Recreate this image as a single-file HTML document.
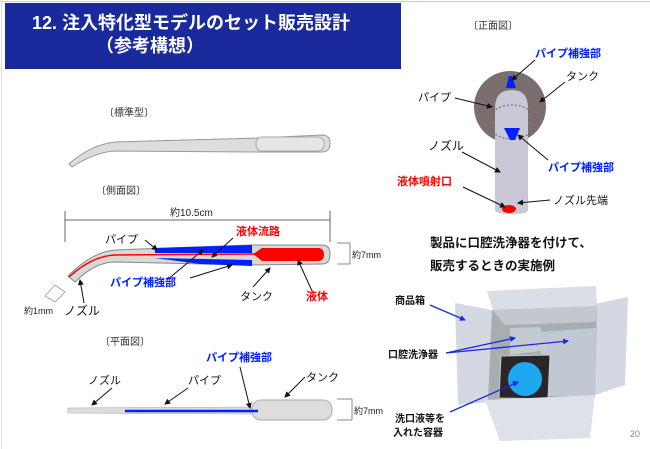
<!DOCTYPE html>
<html><head><meta charset="utf-8"><style>
body{margin:0;background:#fff}
svg{display:block;font-family:"Liberation Sans","Noto Sans CJK JP",sans-serif}
.b{font-weight:bold}
</style></head><body>
<svg width="650" height="449" viewBox="0 0 650 449" xmlns="http://www.w3.org/2000/svg">
<defs>
<marker id="a" markerWidth="6" markerHeight="6" refX="5" refY="3" orient="auto" markerUnits="userSpaceOnUse"><path d="M0,0 L6,3 L0,6 Z" fill="#111"/></marker>
<marker id="ab" markerWidth="6" markerHeight="6" refX="5" refY="3" orient="auto" markerUnits="userSpaceOnUse"><path d="M0,0 L6,3 L0,6 Z" fill="#1a2ae0"/></marker>
</defs>
<rect x="0" y="0" width="650" height="449" fill="#fff"/>
<line x1="0" y1="1.5" x2="650" y2="1.5" stroke="#ccc"/>
<line x1="1.5" y1="0" x2="1.5" y2="449" stroke="#ddd"/>
<rect x="5" y="3" width="396" height="66" fill="#1a2a9c"/>
<text x="32" y="29" font-size="18" fill="#fff" class="b">12.  注入特化型モデルのセット販売設計</text>
<text x="96" y="52" font-size="18" fill="#fff" class="b">（参考構想）</text>

<text x="104" y="116" font-size="10" fill="#333">〔標準型〕</text>
<path d="M69,164 Q90,145 115,142 L258,138 L322,135 Q330,135 330,143 Q330,152 322,152 L258,152 L115,151 Q95,152 72,167 Z" fill="#ddd" stroke="#999" stroke-width="1"/>
<rect x="256" y="137" width="68" height="14" rx="6" fill="#e6e6e6" stroke="#aaa"/>

<text x="96" y="194" font-size="10" fill="#333">〔側面図〕</text>
<text x="170" y="216" font-size="10" fill="#222">約10.5cm</text>
<line x1="65" y1="220" x2="330" y2="220" stroke="#666"/>
<line x1="65" y1="211" x2="65" y2="242" stroke="#666"/>
<line x1="330" y1="211" x2="330" y2="242" stroke="#666"/>
<path d="M68,276 Q92,252 115,250 L250,245 L322,245 Q330,245 330,254 Q330,264 322,264 L250,265 L115,262 Q95,262 75,282 Z" fill="#d8d8d8" stroke="#888"/>
<path d="M155,248 L252,245 L252,253 L155,253 Z M155,258 L252,260 L252,266 L200,264 Z" fill="#0020ff"/>
<path d="M253,254 L262,248 L318,248 Q324,248 324,255 Q324,261 318,261 L262,261 Z" fill="#ff0000"/>
<path d="M69,277 Q92,256 115,255 L255,254" stroke="#ff0000" stroke-width="1.5" fill="none"/>
<path d="M45,296 L55,285 L65,292 L55,302 Z" fill="none" stroke="#999" stroke-width="0.8"/>
<g stroke="#111" stroke-width="1" marker-end="url(#a)">
<line x1="145" y1="240" x2="157" y2="250"/>
<line x1="233" y1="238" x2="212" y2="257"/>
<line x1="167" y1="280" x2="203" y2="250"/>
<line x1="190" y1="278" x2="232" y2="265"/>
<line x1="253" y1="287" x2="270" y2="268"/>
<line x1="312" y1="291" x2="298" y2="260"/>
<line x1="84" y1="303" x2="80" y2="280"/>
</g>
<text x="105" y="243" font-size="11" fill="#111">パイプ</text>
<text x="236" y="235" font-size="11" fill="#ff0000" class="b">液体流路</text>
<text x="110" y="286" font-size="11" fill="#0020ff" class="b">パイプ補強部</text>
<text x="240" y="300" font-size="11" fill="#111">タンク</text>
<text x="306" y="300" font-size="11" fill="#ff0000" class="b">液体</text>
<text x="64" y="315" font-size="12" fill="#111">ノズル</text>
<text x="24" y="314" font-size="9" fill="#222">約1mm</text>
<line x1="337" y1="243" x2="350" y2="243" stroke="#888"/>
<line x1="337" y1="264" x2="350" y2="264" stroke="#888"/>
<line x1="350" y1="243" x2="350" y2="264" stroke="#888"/>
<text x="352" y="258" font-size="9" fill="#222">約7mm</text>

<text x="100" y="345" font-size="10" fill="#333">〔平面図〕</text>
<text x="206" y="361" font-size="11" fill="#0020ff" class="b">パイプ補強部</text>
<text x="88" y="384" font-size="11" fill="#111">ノズル</text>
<text x="188" y="384" font-size="11" fill="#111">パイプ</text>
<text x="306" y="381" font-size="11" fill="#111">タンク</text>
<path d="M68,408 L255,407 L255,414 L68,413 Z" fill="#ddd" stroke="#aaa" stroke-width="0.6"/>
<rect x="252" y="400" width="80" height="20" rx="9" fill="#ddd" stroke="#aaa"/>
<line x1="125" y1="411" x2="258" y2="411" stroke="#0020ff" stroke-width="2.5"/>
<g stroke="#111" stroke-width="1" marker-end="url(#a)">
<line x1="112" y1="388" x2="92" y2="405"/>
<line x1="188" y1="388" x2="165" y2="404"/>
<line x1="240" y1="367" x2="250" y2="408"/>
<line x1="305" y1="377" x2="285" y2="397"/>
</g>
<line x1="337" y1="399" x2="352" y2="399" stroke="#888"/>
<line x1="337" y1="420" x2="352" y2="420" stroke="#888"/>
<line x1="352" y1="399" x2="352" y2="420" stroke="#888"/>
<text x="354" y="414" font-size="9" fill="#222">約7mm</text>

<text x="468" y="29" font-size="10" fill="#333">〔正面図〕</text>
<circle cx="510" cy="107" r="36" fill="#7a6e6e"/>
<path d="M495,108 Q495,90 512,90 Q528,90 528,108 L528,210 Q528,214 512,214 Q495,214 495,210 Z" fill="#c8c8d6"/>
<ellipse cx="512" cy="122" rx="24" ry="17" fill="none" stroke="#666" stroke-dasharray="2,2"/>
<path d="M506,88 L509,76 L512,76 L516,88 Z" fill="#0020ff"/>
<path d="M504,128 L520,128 L515,140 L510,140 Z" fill="#0020ff"/>
<ellipse cx="509" cy="209" rx="7" ry="4" fill="#ff0000"/>
<g stroke="#111" stroke-width="1" marker-end="url(#a)">
<line x1="535" y1="60" x2="512" y2="80"/>
<line x1="565" y1="82" x2="540" y2="102"/>
<line x1="455" y1="98" x2="492" y2="107"/>
<line x1="462" y1="152" x2="500" y2="172"/>
<line x1="548" y1="160" x2="518" y2="135"/>
<line x1="463" y1="187" x2="505" y2="207"/>
<line x1="550" y1="200" x2="518" y2="203"/>
</g>
<text x="535" y="57" font-size="11" fill="#0020ff" class="b">パイプ補強部</text>
<text x="566" y="80" font-size="11" fill="#111">タンク</text>
<text x="418" y="101" font-size="11" fill="#111">パイプ</text>
<text x="428" y="150" font-size="12" fill="#111">ノズル</text>
<text x="548" y="171" font-size="11" fill="#0020ff" class="b">パイプ補強部</text>
<text x="397" y="185" font-size="11" fill="#ff0000" class="b">液体噴射口</text>
<text x="553" y="204" font-size="11" fill="#111">ノズル先端</text>

<text x="430" y="247" font-size="12.5" fill="#111" class="b">製品に口腔洗浄器を付けて、</text>
<text x="430" y="270" font-size="12.5" fill="#111" class="b">販売するときの実施例</text>

<path d="M455,303 L492,310 L490,402 L458,405 Z" fill="#d4d8e2"/>
<path d="M487,291 L596,286 L597,306 L493,310 Z" fill="#dadee6"/>
<path d="M595,304 L628,297 L625,385 L595,395 Z" fill="#d4d8e2"/>
<path d="M492,310 L597,306 L595,398 L488,400 Z" fill="#a8adb2"/>
<path d="M492,310 L597,306 L596,322 L505,325 Z" fill="#c4c8cc"/>
<path d="M540,332 L596,328 L595,396 L543,396 Z" fill="#c2c8d2"/>
<path d="M510,328 L540,327 L548,350 L510,355 Z" fill="#c4cad2"/>
<path d="M501,356 L550,355 L548,399 L499,398 Z" fill="#2a2528" stroke="#ccc"/>
<circle cx="525" cy="379" r="17" fill="#1ea8f0"/>
<path d="M485,400 L595,395 L590,438 L500,441 Z" fill="#dde1e8"/>
<g stroke="#1a2ae0" stroke-width="1.3" marker-end="url(#ab)">
<line x1="430" y1="305" x2="465" y2="320"/>
<line x1="446" y1="353" x2="515" y2="338"/>
<line x1="446" y1="353" x2="568" y2="341"/>
<line x1="450" y1="412" x2="518" y2="382"/>
</g>
<text x="395" y="304" font-size="10" fill="#111" class="b">商品箱</text>
<text x="388" y="358" font-size="10" fill="#111" class="b">口腔洗浄器</text>
<text x="395" y="422" font-size="10" fill="#111" class="b">洗口液等を</text>
<text x="393" y="436" font-size="10" fill="#111" class="b">入れた容器</text>
<text x="630" y="437" font-size="9" fill="#888">20</text>
</svg>
</body></html>
